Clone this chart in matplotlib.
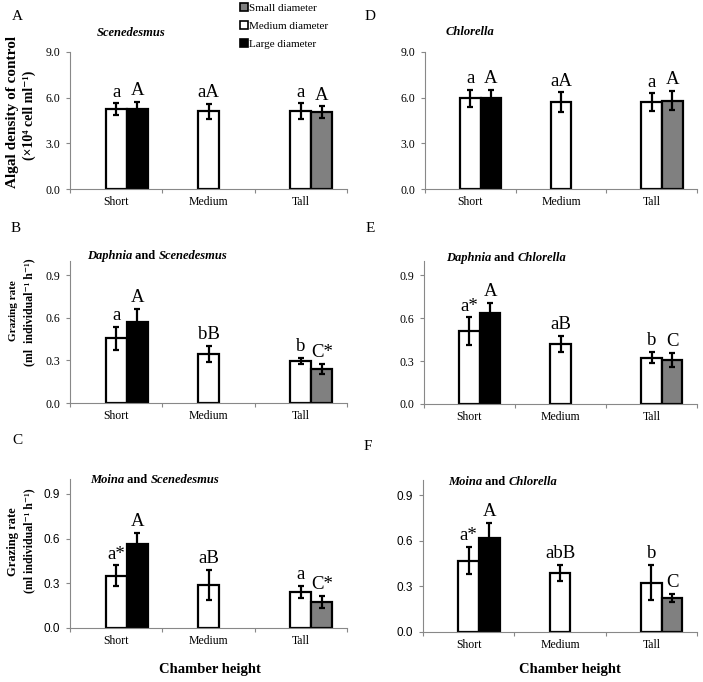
import matplotlib
matplotlib.use('Agg')
import matplotlib.pyplot as plt
from matplotlib.patches import Patch
from matplotlib.text import Annotation
import numpy as np

SERIF = ['Liberation Serif', 'DejaVu Serif']
SANS = ['Liberation Sans', 'DejaVu Sans']
plt.rcParams['font.family'] = SERIF

W, H = 703, 682

categories = ['Short', 'Medium', 'Tall']

# white bars = medium diameter at each height; dark bars: Short = large (black), Tall = small (grey)
# A: Scenedesmus control density
A_white = [5.25, 5.10, 5.10]
A_white_err = [0.37, 0.48, 0.52]
A_dark = [5.25, 5.05]
A_dark_err = [0.45, 0.37]
A_white_lab = ['a', 'aA', 'a']
A_dark_lab = ['A', 'A']

# D: Chlorella control density
D_white = [5.95, 5.70, 5.70]
D_white_err = [0.56, 0.65, 0.58]
D_dark = [5.97, 5.80]
D_dark_err = [0.52, 0.62]
D_white_lab = ['a', 'aA', 'a']
D_dark_lab = ['A', 'A']

# B: Daphnia and Scenedesmus
B_white = [0.455, 0.345, 0.295]
B_white_err = [0.08, 0.055, 0.022]
B_dark = [0.57, 0.24]
B_dark_err = [0.095, 0.035]
B_white_lab = ['a', 'bB', 'b']
B_dark_lab = ['A', 'C*']

# E: Daphnia and Chlorella
E_white = [0.51, 0.42, 0.325]
E_white_err = [0.095, 0.055, 0.038]
E_dark = [0.635, 0.31]
E_dark_err = [0.07, 0.05]
E_white_lab = ['a*', 'aB', 'b']
E_dark_lab = ['A', 'C']

# C: Moina and Scenedesmus
C_white = [0.35, 0.29, 0.24]
C_white_err = [0.07, 0.10, 0.042]
C_dark = [0.565, 0.175]
C_dark_err = [0.075, 0.04]
C_white_lab = ['a*', 'aB', 'a']
C_dark_lab = ['A', 'C*']

# F: Moina and Chlorella
F_white = [0.47, 0.39, 0.325]
F_white_err = [0.088, 0.052, 0.117]
F_dark = [0.62, 0.225]
F_dark_err = [0.1, 0.026]
F_white_lab = ['a*', 'abB', 'b']
F_dark_lab = ['A', 'C']

fig = plt.figure(figsize=(W / 100, H / 100), dpi=100)


def px_axes(x0, y0, x1, y1):
    return fig.add_axes([x0 / W, 1 - y1 / H, (x1 - x0) / W, (y1 - y0) / H])


def chain_title(x, y, pieces, size=9):
    # bold title, mixing italic species names with upright "and"
    t = fig.text(x / W, 1 - y / H, pieces[0][0], style=pieces[0][1],
                 weight='bold', fontsize=size, va='center', ha='left')
    for txt, st in pieces[1:]:
        t = fig.add_artist(Annotation(txt, xy=(1, 0), xycoords=t, va='bottom', ha='left',
                                      style=st, weight='bold', fontsize=size))
    return t


bw = 0.227


def draw_panel(box, white, white_err, dark, dark_err, wlab, dlab, ymax, yticks, tickfont):
    ax = px_axes(*box)
    x = np.arange(len(categories))
    dark_x = [0 + bw, 2 + bw]
    err_kw = dict(ecolor='black', elinewidth=1.6, capsize=2.5, capthick=1.6)
    ax.bar(x, white, bw, yerr=white_err, color='white', edgecolor='black',
           linewidth=1.6, error_kw=err_kw, zorder=2)
    ax.bar(dark_x, dark, bw, yerr=dark_err, color=['black', '#808080'],
           edgecolor='black', linewidth=1.6, error_kw=err_kw, zorder=2)
    for xi, v, e, lab in zip(x, white, white_err, wlab):
        ax.annotate(lab, (xi, v + e), xytext=(0, 2), textcoords='offset points',
                    ha='center', va='bottom', fontsize=13.5)
    for xi, v, e, lab in zip(dark_x, dark, dark_err, dlab):
        ax.annotate(lab, (xi, v + e), xytext=(0, 2), textcoords='offset points',
                    ha='center', va='bottom', fontsize=13.5)
    ax.set_xlim(-0.5, 2.5)
    ax.set_ylim(0, ymax)
    ax.set_yticks(yticks)
    ax.set_yticklabels(['%.1f' % t for t in yticks], fontsize=8.5, family=tickfont)
    ax.set_xticks([-0.5, 0.5, 1.5, 2.5])
    ax.set_xticklabels([])
    ax.set_xticks(x, minor=True)
    ax.set_xticklabels(categories, minor=True, fontsize=8.5)
    ax.tick_params(axis='x', which='minor', length=0, pad=5)
    ax.tick_params(axis='both', which='major', length=3, width=0.8, color='#888888', pad=4)
    for s in ['top', 'right']:
        ax.spines[s].set_visible(False)
    for s in ['left', 'bottom']:
        ax.spines[s].set_color('#888888')
        ax.spines[s].set_linewidth(0.8)
    return ax


dens_ticks = [0, 3, 6, 9]
graz_ticks = [0, 0.3, 0.6, 0.9]

draw_panel((70, 52, 347, 189), A_white, A_white_err, A_dark, A_dark_err,
           A_white_lab, A_dark_lab, 9, dens_ticks, SERIF)
draw_panel((425, 52, 697, 189), D_white, D_white_err, D_dark, D_dark_err,
           D_white_lab, D_dark_lab, 9, dens_ticks, SERIF)
draw_panel((70, 261, 347, 403), B_white, B_white_err, B_dark, B_dark_err,
           B_white_lab, B_dark_lab, 1.0, graz_ticks, SERIF)
draw_panel((424, 261, 697, 404), E_white, E_white_err, E_dark, E_dark_err,
           E_white_lab, E_dark_lab, 1.0, graz_ticks, SERIF)
draw_panel((70, 479, 347, 628), C_white, C_white_err, C_dark, C_dark_err,
           C_white_lab, C_dark_lab, 1.0, graz_ticks, SANS)
draw_panel((423, 480, 697, 632), F_white, F_white_err, F_dark, F_dark_err,
           F_white_lab, F_dark_lab, 1.0, graz_ticks, SANS)

# panel titles
chain_title(97, 33, [('Scenedesmus', 'italic')])
chain_title(446, 32, [('Chlorella', 'italic')])
chain_title(87, 256, [('Daphnia', 'italic'), (' and ', 'normal'), ('Scenedesmus', 'italic')])
chain_title(446, 258, [('Daphnia', 'italic'), (' and ', 'normal'), ('Chlorella', 'italic')])
chain_title(90, 480, [('Moina', 'italic'), (' and ', 'normal'), ('Scenedesmus', 'italic')])
chain_title(448, 482, [('Moina', 'italic'), (' and ', 'normal'), ('Chlorella', 'italic')])

# panel letters
for lab, (px, py) in zip('ABCDEF', [(17, 16), (16, 229), (17, 441), (370, 16), (370, 229), (368, 447)]):
    fig.text(px / W, 1 - py / H, lab, fontsize=11, ha='center', va='center')

# y labels, one text per line
def ylab(x, y, txt, size):
    fig.text(x / W, 1 - y / H, txt, rotation=90, fontsize=size, weight='bold',
             ha='center', va='center')


ylab(13, 112, 'Algal density of control', 11)
ylab(29, 115, '(×10⁴ cell ml⁻¹)', 10)
ylab(13, 311, 'Grazing rate', 8)
ylab(29, 312, '(ml  individual⁻¹ h⁻¹)', 8.5)
ylab(13, 542, 'Grazing rate', 9)
ylab(29, 541, '(ml individual⁻¹ h⁻¹)', 8.5)

# x labels
fig.text(210 / W, 1 - 670 / H, 'Chamber height', fontsize=10.5, weight='bold', ha='center', va='center')
fig.text(570 / W, 1 - 670 / H, 'Chamber height', fontsize=10.5, weight='bold', ha='center', va='center')

# legend
handles = [Patch(facecolor='#808080', edgecolor='black', linewidth=1.2),
           Patch(facecolor='white', edgecolor='black', linewidth=1.2),
           Patch(facecolor='black', edgecolor='black', linewidth=1.2)]
fig.legend(handles, ['Small diameter', 'Medium diameter', 'Large diameter'],
           loc='upper left', bbox_to_anchor=(240 / W, 1 - 3 / H), frameon=False,
           fontsize=8, handlelength=0.7, handleheight=0.7, handletextpad=0.15,
           labelspacing=0.75, borderpad=0, borderaxespad=0)

fig.savefig('out.png', dpi=100)
